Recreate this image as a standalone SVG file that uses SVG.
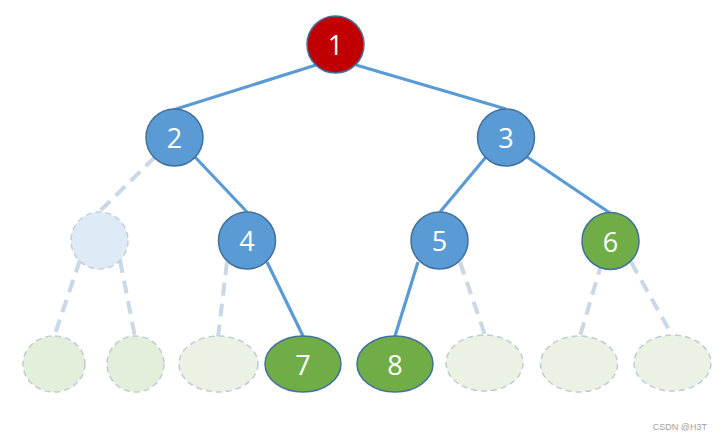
<svg xmlns="http://www.w3.org/2000/svg" width="722" height="441" viewBox="0 0 722 441">
<style>
.solid{stroke:#5B9BD5;stroke-width:3.2;fill:none}
.dash{stroke:#CAD8E6;stroke-width:4;stroke-dasharray:13 8;fill:none}
.red{fill:#C00000;stroke:#41719C;stroke-width:1.5}
.blue{fill:#5B9BD5;stroke:#41719C;stroke-width:1.5}
.green{fill:#70AD47;stroke:#41719C;stroke-width:1.5}
.ghostb{fill:#DEEBF7;stroke:#BFCFDD;stroke-width:1.5;stroke-dasharray:6 4}
.ghostg{fill:#E2EFDA;stroke:#BFCCD6;stroke-width:1.5;stroke-dasharray:6 4}
.ghostl{fill:#EBF2E3;stroke:#BFCCD6;stroke-width:1.5;stroke-dasharray:6 4}
.lbl{font-family:"Open Sans","Liberation Sans",sans-serif;font-size:27px;fill:#FFFFFF;text-anchor:middle;dominant-baseline:central}
</style>
<rect width="722" height="441" fill="#FFFFFF"/>
<g id="connectors">
<line class="solid" x1="316" y1="65" x2="173" y2="110"/>
<line class="solid" x1="356" y1="65" x2="506" y2="109"/>
<line class="dash" x1="155" y1="157" x2="99" y2="212"/>
<line class="solid" x1="195" y1="157" x2="247" y2="212"/>
<line class="solid" x1="486" y1="157" x2="440" y2="212"/>
<line class="solid" x1="527" y1="157" x2="610" y2="213"/>
<line class="dash" x1="80" y1="260" x2="54" y2="337"/>
<line class="dash" x1="120" y1="260" x2="135" y2="337"/>
<line class="dash" x1="227" y1="262" x2="218" y2="337"/>
<line class="solid" x1="267" y1="262" x2="303" y2="336"/>
<line class="solid" x1="418" y1="262" x2="395" y2="336"/>
<line class="dash" x1="460" y1="262" x2="485" y2="335"/>
<line class="dash" x1="602" y1="262" x2="580" y2="336"/>
<line class="dash" x1="631" y1="262" x2="672" y2="335"/>
</g>
<g id="n1"><circle class="red" cx="335.5" cy="44.5" r="28.5"/><text class="lbl" x="335.5" y="44">1</text></g>
<g id="n2"><circle class="blue" cx="174.5" cy="137.5" r="28.5"/><text class="lbl" x="174.5" y="137">2</text></g>
<g id="n3"><circle class="blue" cx="506" cy="137.5" r="28.5"/><text class="lbl" x="506" y="137">3</text></g>
<g id="g1"><circle class="ghostb" cx="99.5" cy="240.5" r="28.5"/></g>
<g id="n4"><circle class="blue" cx="247" cy="240.5" r="28.5"/><text class="lbl" x="247" y="240">4</text></g>
<g id="n5"><circle class="blue" cx="439.5" cy="240.5" r="28.5"/><text class="lbl" x="439.5" y="240">5</text></g>
<g id="n6"><circle class="green" cx="610.5" cy="241" r="28.5"/><text class="lbl" x="610.5" y="241">6</text></g>
<g id="e1"><ellipse class="ghostg" cx="54" cy="364" rx="31" ry="28"/></g>
<g id="e2"><ellipse class="ghostg" cx="135.5" cy="364" rx="28.5" ry="28"/></g>
<g id="e3"><ellipse class="ghostl" cx="218.5" cy="364" rx="39.5" ry="28"/></g>
<g id="n7"><ellipse class="green" cx="303" cy="364" rx="38" ry="28"/><text class="lbl" x="303" y="364">7</text></g>
<g id="n8"><ellipse class="green" cx="395" cy="364" rx="38" ry="28"/><text class="lbl" x="395" y="364">8</text></g>
<g id="e4"><ellipse class="ghostl" cx="484.5" cy="363" rx="38.5" ry="28"/></g>
<g id="e5"><ellipse class="ghostl" cx="579" cy="364" rx="38.5" ry="28"/></g>
<g id="e6"><ellipse class="ghostl" cx="672.5" cy="363" rx="38.5" ry="28"/></g>
<text x="707" y="430" font-family="Liberation Sans, sans-serif" font-size="9" fill="#A0A0A0" text-anchor="end">CSDN @H3T</text>
</svg>
